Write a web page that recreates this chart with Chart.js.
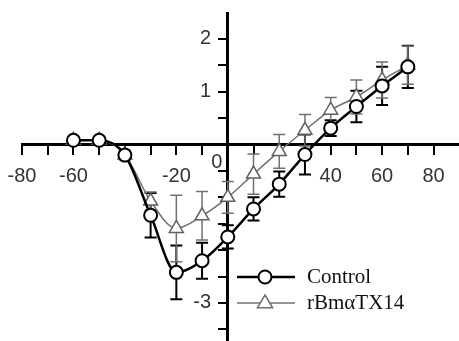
<!DOCTYPE html>
<html>
<head>
<meta charset="utf-8">
<script src="https://cdn.jsdelivr.net/npm/chart.js@4.4.0/dist/chart.umd.min.js"></script>
<style>
  html, body { margin: 0; padding: 0; background: #fff; }
  #wrap { width: 459px; height: 341px; }
</style>
</head>
<body>
<div id="wrap"><canvas id="grafico"></canvas></div>
<script>
/* dados (mV / corrente normalizada) */
const VOLTAGENS = [-60, -50, -40, -30, -20, -10, 0, 10, 20, 30, 40, 50, 60, 70];
const CONTROLE = [0.08, 0.08, -0.2, -1.34, -2.42, -2.2, -1.75, -1.22, -0.75, -0.19, 0.31, 0.72, 1.11, 1.47];
const ERRO_CONTROLE = [0.03, 0.03, 0.08, 0.42, 0.51, 0.34, 0.22, 0.22, 0.24, 0.38, 0.15, 0.3, 0.36, 0.4];
const TOXINA = [0.08, 0.08, -0.2, -1.07, -1.59, -1.35, -1.0, -0.56, -0.13, 0.27, 0.65, 0.9, 1.22, 1.5];
const ERRO_TOXINA = [0.03, 0.03, 0.08, 0.17, 0.63, 0.46, 0.3, 0.38, 0.32, 0.3, 0.24, 0.32, 0.34, 0.36];
const ROTULOS_X = [-80, -60, -20, 40, 60, 80];
const ROTULOS_Y = [2, 1, -3];
const NOMES = ['Control', 'rBmαTX14'];

const FONTE = 'Liberation Sans, Arial, sans-serif';
const FONTE_LEGENDA = 'Liberation Serif, Times New Roman, serif';

/* eixos cruzados no centro: zera a margem extra que o Chart.js reserva */
const semMargem = (scale) => {
  scale.paddingTop = 0;
  scale.paddingBottom = 0;
  scale.paddingLeft = 0;
  scale.paddingRight = 0;
};

/* --- barras de erro --- */
const barrasErro = {
  id: 'barrasErro',
  beforeDatasetsDraw(chart) {
    const ctx = chart.ctx;
    const y = chart.scales.y;
    chart.data.datasets.forEach((ds, k) => {
      const meta = chart.getDatasetMeta(k);
      ctx.save();
      ctx.strokeStyle = ds.borderColor;
      ctx.lineWidth = k === 0 ? 2 : 1.5;
      meta.data.forEach((pt, i) => {
        const e = ds.erros[i];
        const v = ds.data[i].y;
        const yTop = y.getPixelForValue(v + e);
        const yBot = y.getPixelForValue(v - e);
        ctx.beginPath();
        ctx.moveTo(pt.x, yTop); ctx.lineTo(pt.x, yBot);
        ctx.moveTo(pt.x - 6, yTop); ctx.lineTo(pt.x + 6, yTop);
        ctx.moveTo(pt.x - 6, yBot); ctx.lineTo(pt.x + 6, yBot);
        ctx.stroke();
      });
      ctx.restore();
    });
  }
};

/* --- rotulo 0 e legenda --- */
const extras = {
  id: 'extras',
  afterDraw(chart) {
    const ctx = chart.ctx;
    const x0 = chart.scales.x.getPixelForValue(0);
    const y0 = chart.scales.y.getPixelForValue(0);
    ctx.save();
    ctx.fillStyle = '#333';
    ctx.font = '20px ' + FONTE;
    ctx.textAlign = 'center';
    ctx.textBaseline = 'middle';
    ctx.fillText('0', x0 - 11, y0 + 18);

    chart.data.datasets.forEach((ds, k) => {
      const ly = 277 + k * 26;
      ctx.strokeStyle = ds.borderColor;
      ctx.lineWidth = k === 0 ? 2.5 : 1.5;
      ctx.beginPath();
      ctx.moveTo(237, ly); ctx.lineTo(295, ly);
      ctx.stroke();
      ctx.fillStyle = '#fff';
      ctx.lineWidth = ds.pointBorderWidth;
      ctx.beginPath();
      if (k === 0) {
        ctx.arc(265, ly, ds.pointRadius, 0, Math.PI * 2);
      } else {
        const r = ds.pointRadius;
        ctx.moveTo(265, ly - r);
        ctx.lineTo(265 + r * 0.95, ly + r * 0.6);
        ctx.lineTo(265 - r * 0.95, ly + r * 0.6);
        ctx.closePath();
      }
      ctx.fill(); ctx.stroke();
      ctx.fillStyle = '#111';
      ctx.font = '21px ' + FONTE_LEGENDA;
      ctx.textAlign = 'left';
      ctx.fillText(NOMES[k], 307, ly);
    });
    ctx.restore();
  }
};

const pontos = (ys) => VOLTAGENS.map((v, i) => ({ x: v, y: ys[i] }));

new Chart(document.getElementById('grafico'), {
  type: 'line',
  data: {
    datasets: [
      {
        label: NOMES[0],
        data: pontos(CONTROLE),
        erros: ERRO_CONTROLE,
        borderColor: '#000',
        borderWidth: 2.5,
        cubicInterpolationMode: 'monotone',
        pointStyle: 'circle',
        pointRadius: 6.5,
        pointBorderWidth: 2,
        pointBackgroundColor: '#fff',
        pointBorderColor: '#000',
      },
      {
        label: NOMES[1],
        data: pontos(TOXINA),
        erros: ERRO_TOXINA,
        borderColor: '#707070',
        borderWidth: 1.5,
        cubicInterpolationMode: 'monotone',
        pointStyle: 'triangle',
        pointRadius: 8,
        pointBorderWidth: 1.5,
        pointBackgroundColor: '#fff',
        pointBorderColor: '#606060',
      },
    ],
  },
  options: {
    responsive: true,
    maintainAspectRatio: false,
    animation: false,
    layout: { autoPadding: false, padding: { left: 22, right: 1, top: 13, bottom: 0 } },
    plugins: { legend: { display: false }, tooltip: { enabled: false } },
    scales: {
      x: {
        type: 'linear',
        position: { y: 0 },
        min: -80, max: 89.5,
        afterFit: semMargem,
        border: { display: true, color: '#000', width: 3 },
        grid: { drawOnChartArea: false, drawTicks: true, tickLength: 9, color: '#000', lineWidth: 2 },
        ticks: {
          stepSize: 10, autoSkip: false, maxRotation: 0, includeBounds: false,
          padding: 11, color: '#333', font: { family: FONTE, size: 20 },
          callback: (v) => ROTULOS_X.includes(v) ? String(v) : '',
        },
      },
      y: {
        type: 'linear',
        position: { x: 0 },
        min: -3.72, max: 2.49,
        afterFit: semMargem,
        border: { display: true, color: '#000', width: 3 },
        grid: { drawOnChartArea: false, drawTicks: true, tickLength: 8, color: '#000', lineWidth: 2 },
        ticks: {
          stepSize: 0.5, autoSkip: false, includeBounds: false,
          padding: 6, color: '#333', font: { family: FONTE, size: 20 },
          callback: (v) => ROTULOS_Y.includes(v) ? String(v) + '   ' : '',
        },
      },
    },
  },
  plugins: [barrasErro, extras],
});
</script>
</body>
</html>
